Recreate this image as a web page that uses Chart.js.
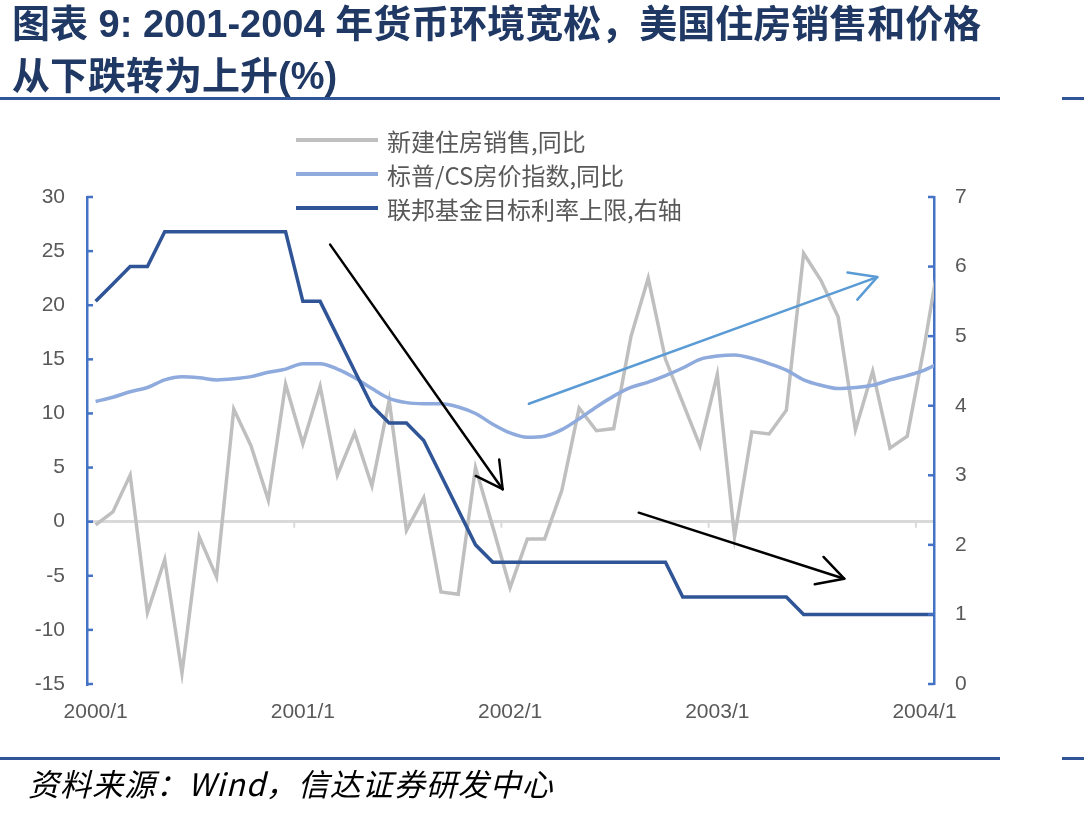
<!DOCTYPE html>
<html>
<head>
<meta charset="utf-8">
<script src="https://cdn.jsdelivr.net/npm/chart.js@4.4.0/dist/chart.umd.min.js"></script>
<style>
  body { margin: 0; background: #fff; }
  #wrap { position: relative; width: 1084px; height: 814px; overflow: hidden; font-family: "Liberation Sans", "Noto Sans CJK SC", sans-serif; }
  #chart { position: absolute; left: 0; top: 0; }
  .title { position: absolute; left: 12px; color: #1F3864; font-weight: bold; font-size: 38px; line-height: 50px; white-space: nowrap; }
  .rule { position: absolute; height: 3px; background: #2F5597; }
  .legend { position: absolute; left: 296px; top: 123px; font-family: "Noto Sans CJK SC", sans-serif; font-size: 24px; color: #595959; }
  .legend .row { display: flex; align-items: center; height: 34px; }
  .legend .sw { width: 82px; height: 4px; margin-right: 9px; }
  .source { position: absolute; left: 28px; top: 760px; font-family: "Noto Sans CJK SC", sans-serif; font-style: italic; font-size: 31px; letter-spacing: 1px; color: #000; white-space: nowrap; }
</style>
</head>
<body>
<div id="wrap">
  <canvas id="chart" width="1084" height="814"></canvas>
  <div class="title" style="top:-1px">图表 9: 2001-2004 年货币环境宽松，美国住房销售和价格</div>
  <div class="title" style="top:51px">从下跌转为上升(%)</div>
  <div class="rule" style="left:0;top:97px;width:1000px"></div>
  <div class="rule" style="left:1062px;top:97px;width:22px"></div>
  <div class="legend" id="legend"></div>
  <div class="rule" style="left:0;top:757px;width:1000px"></div>
  <div class="rule" style="left:1062px;top:757px;width:22px"></div>
  <div class="source">资料来源：Wind，信达证券研发中心</div>
</div>
<script>
// 月度数据 2000/1 - 2004/2
const xTickLabels = ["2000/1", "2001/1", "2002/1", "2003/1", "2004/1"];
const xTickValues = [0, 12, 24, 36, 48];

const seriesNames = ["新建住房销售,同比", "标普/CS房价指数,同比", "联邦基金目标利率上限,右轴"];
const seriesColors = ["#BFBFBF", "#8FAADC", "#2F5597"];

const salesYoY = [
  -0.3, 0.9, 4.3, -8.4, -3.5, -14.0, -1.4, -5.1, 10.4, 7.0, 2.0, 12.7,
  7.2, 12.5, 4.3, 8.2, 3.3, 11.2, -0.8, 2.2, -6.5, -6.7, 5.0, -0.5,
  -6.1, -1.6, -1.6, 2.9, 10.5, 8.4, 8.6, 17.1, 22.5, 15.0, 11.0, 7.0,
  13.6, -1.4, 8.3, 8.1, 10.3, 24.8, 22.3, 18.9, 8.5, 13.9, 6.8, 7.9,
  16.3, 25.8,
];
const hpiYoY = [
  11.1, 11.5, 12.0, 12.4, 13.1, 13.4, 13.3, 13.1, 13.2, 13.4, 13.8, 14.1,
  14.6, 14.6, 14.1, 13.3, 12.3, 11.4, 11.0, 10.9, 10.9, 10.6, 10.0, 9.0,
  8.2, 7.8, 7.9, 8.5, 9.5, 10.6, 11.6, 12.4, 12.9, 13.5, 14.2, 15.0,
  15.3, 15.4, 15.1, 14.6, 14.0, 13.1, 12.6, 12.3, 12.4, 12.6, 13.1, 13.5,
  14.0, 14.8,
];
const fedRate = [
  5.5, 5.75, 6.0, 6.0, 6.5, 6.5, 6.5, 6.5, 6.5, 6.5, 6.5, 6.5,
  5.5, 5.5, 5.0, 4.5, 4.0, 3.75, 3.75, 3.5, 3.0, 2.5, 2.0, 1.75,
  1.75, 1.75, 1.75, 1.75, 1.75, 1.75, 1.75, 1.75, 1.75, 1.75, 1.25, 1.25,
  1.25, 1.25, 1.25, 1.25, 1.25, 1.0, 1.0, 1.0, 1.0, 1.0, 1.0, 1.0,
  1.0, 1.0,
];

// 图中的箭头（以月序号和左轴数值表示）
const arrows = [
  { from: [13.58, 25.6], to: [23.57, 3.0], color: "#000000" },
  { from: [31.45, 0.83], to: [43.35, -5.27], color: "#000000" },
  { from: [25.09, 10.9], to: [45.26, 22.6], color: "#5B9BD5" },
];

const toPoints = (arr) => arr.map((v, i) => ({ x: i, y: v }));

// 图例
const legendEl = document.getElementById("legend");
seriesNames.forEach((name, i) => {
  const row = document.createElement("div");
  row.className = "row";
  row.innerHTML = `<div class="sw" style="background:${seriesColors[i]}"></div><span>${name}</span>`;
  legendEl.appendChild(row);
});

function line(ctx, x1, y1, x2, y2) {
  ctx.beginPath();
  ctx.moveTo(x1, y1);
  ctx.lineTo(x2, y2);
  ctx.stroke();
}

const decor = {
  id: "decor",
  beforeDatasetsDraw(chart) {
    const { ctx, scales: { x, y } } = chart;
    const y0 = y.getPixelForValue(0);
    ctx.save();
    ctx.strokeStyle = "#D9D9D9";
    ctx.lineWidth = 2;
    for (const v of xTickValues) {
      if (v === 0) continue;
      const px = x.getPixelForValue(v - 0.5);
      line(ctx, px, y0, px, y0 + 6);
    }
    ctx.restore();
  },
  afterDatasetsDraw(chart) {
    const { ctx, scales: { x, y } } = chart;
    ctx.save();
    ctx.lineWidth = 2.5;
    ctx.lineCap = "round";
    for (const a of arrows) {
      const x1 = x.getPixelForValue(a.from[0]);
      const y1 = y.getPixelForValue(a.from[1]);
      const x2 = x.getPixelForValue(a.to[0]);
      const y2 = y.getPixelForValue(a.to[1]);
      const ang = Math.atan2(y2 - y1, x2 - x1);
      const len = 30, spread = Math.PI / 6.3;
      ctx.strokeStyle = a.color;
      line(ctx, x1, y1, x2, y2);
      line(ctx, x2, y2, x2 - len * Math.cos(ang - spread), y2 - len * Math.sin(ang - spread));
      line(ctx, x2, y2, x2 - len * Math.cos(ang + spread), y2 - len * Math.sin(ang + spread));
    }
    ctx.restore();
  },
  afterDraw(chart) {
    // 坐标轴内侧刻度
    const { ctx, chartArea, scales: { y, y2 } } = chart;
    ctx.save();
    ctx.strokeStyle = "#4472C4";
    ctx.lineWidth = 2.5;
    for (const t of y.ticks) {
      const py = y.getPixelForValue(t.value);
      line(ctx, chartArea.left, py, chartArea.left + 6, py);
    }
    for (const t of y2.ticks) {
      const py = y2.getPixelForValue(t.value);
      line(ctx, chartArea.right - 6, py, chartArea.right, py);
    }
    ctx.restore();
  },
};

const tickFont = { family: "Liberation Sans", size: 21 };

new Chart(document.getElementById("chart"), {
  type: "line",
  data: {
    datasets: [
      {
        label: seriesNames[0],
        data: toPoints(salesYoY),
        borderColor: seriesColors[0],
        borderWidth: 3.5,
        pointRadius: 0,
        yAxisID: "y",
        order: 3,
        clip: 0,
      },
      {
        label: seriesNames[1],
        data: toPoints(hpiYoY),
        borderColor: seriesColors[1],
        borderWidth: 3.5,
        pointRadius: 0,
        cubicInterpolationMode: "monotone",
        yAxisID: "y",
        order: 2,
        clip: 0,
      },
      {
        label: seriesNames[2],
        data: toPoints(fedRate),
        borderColor: seriesColors[2],
        borderWidth: 3.5,
        pointRadius: 0,
        yAxisID: "y2",
        order: 1,
        clip: 0,
      },
    ],
  },
  options: {
    responsive: false,
    animation: false,
    layout: { padding: { top: 197, left: 0, right: 0, bottom: 0 } },
    plugins: { legend: { display: false }, tooltip: { enabled: false } },
    scales: {
      x: {
        type: "linear",
        min: -0.5,
        max: 48.55,
        afterBuildTicks: (s) => { s.ticks = xTickValues.map((v) => ({ value: v })); },
        afterFit: (s) => { s.height = 130; },
        grid: { display: false, drawTicks: false },
        border: { display: false },
        ticks: {
          autoSkip: false,
          maxRotation: 0,
          padding: 16,
          color: "#595959",
          font: tickFont,
          callback: (v) => xTickLabels[xTickValues.indexOf(v)],
        },
      },
      y: {
        position: "left",
        min: -15,
        max: 30,
        afterFit: (s) => { s.width = 87; },
        ticks: { stepSize: 5, padding: 22, color: "#595959", font: tickFont },
        grid: {
          drawTicks: false,
          lineWidth: 3,
          color: (c) => (c.tick && c.tick.value === 0 ? "#D9D9D9" : "rgba(0,0,0,0)"),
        },
        border: { display: true, color: "#4472C4", width: 2.5 },
      },
      y2: {
        position: "right",
        min: 0,
        max: 7,
        afterFit: (s) => { s.width = 150; },
        ticks: { stepSize: 1, padding: 21, color: "#595959", font: tickFont },
        grid: { display: false, drawTicks: false },
        border: { display: true, color: "#4472C4", width: 2.5 },
      },
    },
  },
  plugins: [decor],
});
</script>
</body>
</html>
